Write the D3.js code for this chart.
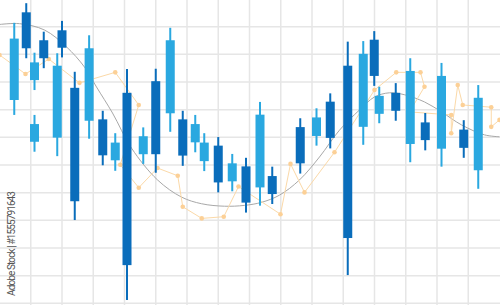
<!DOCTYPE html>
<html>
<head>
<meta charset="utf-8">
<script src="https://cdn.jsdelivr.net/npm/d3@7"></script>
<style>
  body { margin: 0; background: #fff; }
  svg { display: block; }
</style>
</head>
<body>
<svg class="chart"></svg>
<script>
// candles: time (t units), open, high, low, close
let times  = [1.18, 2.14, 2.8, 2.8, 3.54, 4.62, 5.0, 6.02, 7.17, 8.26, 9.26, 10.2, 11.5, 12.5, 13.66, 14.66, 15.66, 16.38, 17.5, 18.62, 19.72, 20.84, 21.82, 24.06, 25.36, 26.46, 27.86, 29.1, 29.98, 30.38, 31.7, 32.86, 34.06, 35.36, 37.14, 38.3];
let opens  = [73.5, 105.2, 80.7, 58.4, 95.1, 59.9, 98.7, 77.9, 66.0, 66.5, 51.7, 76.1, 53.9, 80.3, 68.7, 66.5, 58.2, 51.4, 57.0, 44.1, 49.5, 41.9, 46.0, 63.7, 60.5, 72.9, 85.9, 63.8, 95.3, 68.5, 76.1, 57.6, 65.4, 55.9, 62.8, 48.1];
let highs  = [101.4, 108.5, 90.6, 68.1, 98.2, 90.4, 102.1, 83.7, 96.9, 69.6, 61.5, 84.7, 63.6, 84.8, 99.6, 69.6, 68.1, 61.5, 60.1, 54.0, 52.6, 72.8, 49.4, 66.9, 70.5, 75.9, 94.6, 94.8, 98.4, 78.3, 79.6, 88.6, 68.8, 86.9, 66.2, 78.9];
let lows   = [68.1, 88.6, 77.1, 54.8, 85.0, 53.2, 88.9, 30.1, 59.5, 49.9, 47.9, 1.2, 50.4, 47.2, 62.0, 49.7, 54.6, 47.8, 40.1, 40.5, 32.8, 35.3, 35.9, 46.9, 57.0, 56.0, 10.2, 57.3, 78.6, 65.1, 66.0, 51.0, 55.3, 49.4, 52.6, 41.4];
let closes = [95.7, 92.2, 87.1, 64.8, 88.6, 85.9, 92.4, 36.9, 92.2, 53.5, 58.1, 13.8, 60.4, 53.9, 95.1, 53.4, 64.8, 58.1, 43.7, 50.6, 36.4, 68.2, 39.5, 50.6, 67.2, 59.8, 23.6, 90.2, 82.2, 75.0, 69.6, 84.0, 59.0, 82.2, 56.2, 74.3];

// smooth trend curve
let trendT = [0, 1.6, 3.6, 5.36, 6.8, 7.76, 9.04, 10.56, 12.64, 14.56, 16.16, 18.0, 19.6, 20.96, 22.4, 24.0, 25.6, 27.2, 28.8, 30.0, 31.2, 32.4, 34.0, 35.36, 36.96, 38.8, 40.0];
let trendV = [100.8, 101.1, 98.8, 92.7, 85.4, 78.2, 68.8, 56.1, 44.6, 38.4, 36.0, 35.1, 35.4, 36.5, 39.1, 44.6, 52.9, 62.6, 69.9, 74.6, 76.1, 75.4, 72.8, 69.2, 64.5, 60.9, 60.2];

// dotted orange indicator
let dotsT = [0, 2.08, 3.94, 6.4, 9.26, 11.14, 9.66, 11.14, 12.64, 14.26, 14.66, 16.18, 17.94, 19.12, 22.48, 23.28, 24.4, 26.8, 30.0, 31.74, 33.68, 34.0, 32.8, 36.14, 36.14, 36.66, 37.06, 39.34, 39.34, 40];
let dotsV = [89.8, 82.9, 88.3, 79.7, 83.5, 71.7, 50.1, 41.8, 48.9, 46.1, 34.9, 30.7, 31.3, 42.2, 32.2, 50.4, 40.1, 54.6, 77.1, 83.5, 83.5, 78.3, 69.2, 68.1, 61.5, 78.9, 71.7, 70.9, 63.8, 66.3];

let xTicks = d3.range(2.5, 40, 2.5);
let yTicks = d3.range(0, 111, 10);

let width = 500, height = 305;

let svg = d3.select('.chart')
            .attr('width', width)
            .attr('height', height);

let xScale = d3.scaleLinear().domain([0, 40]).range([-0.5, 499.5]);
let yScale = d3.scaleLinear().domain([0, 110]).range([303.3, -0.96]);

// grid
let grid = svg.append('g').attr('stroke', '#e6e6e6').attr('stroke-width', 1.5);
grid.selectAll('.vline')
    .data(xTicks)
    .enter()
    .append('line')
    .attr('x1', d => xScale(d)).attr('x2', d => xScale(d))
    .attr('y1', 0).attr('y2', height);
grid.selectAll('.hline')
    .data(yTicks)
    .enter()
    .append('line')
    .attr('y1', d => yScale(d)).attr('y2', d => yScale(d))
    .attr('x1', 0).attr('x2', width);

// trend curve
let trend = d3.line()
              .x((d, i) => xScale(trendT[i]))
              .y(d => yScale(d))
              .curve(d3.curveCatmullRom);
svg.append('path')
   .attr('d', trend(trendV))
   .attr('fill', 'none')
   .attr('stroke', '#a8a8a8')
   .attr('stroke-width', 1);

// orange indicator
let ind = d3.line()
            .x((d, i) => xScale(dotsT[i]))
            .y(d => yScale(d));
svg.append('path')
   .attr('d', ind(dotsV))
   .attr('fill', 'none')
   .attr('stroke', '#fbd9a8')
   .attr('stroke-width', 1);
svg.selectAll('.dot')
   .data(dotsV)
   .enter()
   .append('circle')
   .attr('cx', (d, i) => xScale(dotsT[i]))
   .attr('cy', d => yScale(d))
   .attr('r', 2.3)
   .attr('fill', '#fcd096');

// candles
let light = '#2aa8e0', dark = '#0a6dbb';
let candles = svg.selectAll('.candle')
                 .data(times)
                 .enter()
                 .append('g')
                 .attr('fill', (d, i) => closes[i] > opens[i] ? light : dark);
candles.append('rect')
       .attr('x', d => xScale(d) - 1)
       .attr('width', 2)
       .attr('y', (d, i) => yScale(highs[i]))
       .attr('height', (d, i) => yScale(lows[i]) - yScale(highs[i]));
candles.append('rect')
       .attr('x', d => xScale(d) - 4.5)
       .attr('width', 9)
       .attr('y', (d, i) => yScale(Math.max(opens[i], closes[i])))
       .attr('height', (d, i) => Math.abs(yScale(opens[i]) - yScale(closes[i])));

// credit line
svg.append('text')
   .attr('transform', 'translate(15,296) rotate(-90)')
   .attr('font-family', 'Roboto, sans-serif')
   .attr('font-size', 10)
   .attr('fill', '#555')
   .attr('textLength', 105)
   .text('Adobe Stock | #1555791643');
</script>
</body>
</html>
